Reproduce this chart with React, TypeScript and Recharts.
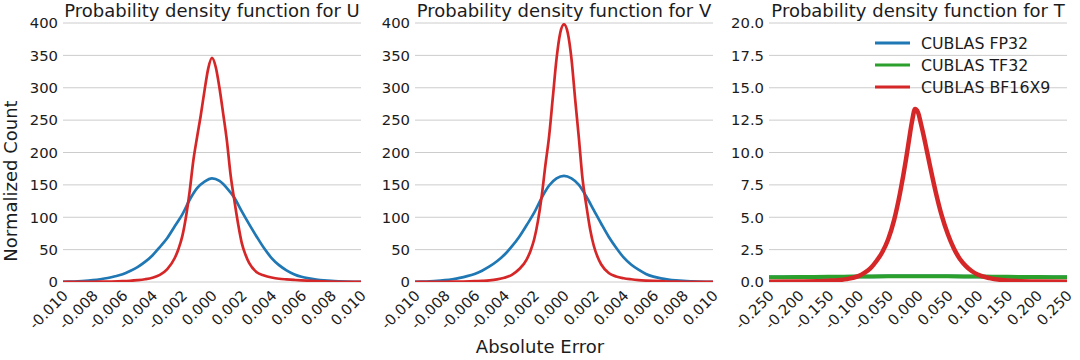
import { LineChart, Line, XAxis, YAxis, CartesianGrid } from 'recharts';

const FONT = '"DejaVu Sans", sans-serif';
const INK = '#1c1c1c';
const FP32 = '#1f77b4';
const TF32 = '#2ca02c';
const BF16X9 = '#d62728';

const seriesNames = ['CUBLAS FP32', 'CUBLAS TF32', 'CUBLAS BF16X9'];
const panelTitles = ['Probability density function for U', 'Probability density function for V', 'Probability density function for T'];

// x ticks
const smallTicks = [-0.01, -0.008, -0.006, -0.004, -0.002, 0, 0.002, 0.004, 0.006, 0.008, 0.01];
const wideTicks = [-0.25, -0.2, -0.15, -0.1, -0.05, 0, 0.05, 0.1, 0.15, 0.2, 0.25];
// y ticks
const countTicks = [0, 50, 100, 150, 200, 250, 300, 350, 400];
const tTicks = [0, 2.5, 5, 7.5, 10, 12.5, 15, 17.5, 20];

// sample positions
const broadX = [
  -0.01, -0.0095, -0.009, -0.0085, -0.008, -0.0075, -0.007, -0.0065, -0.006, -0.0055,
  -0.005, -0.0045, -0.004, -0.0035, -0.003, -0.0025, -0.002, -0.0015, -0.001, -0.0005,
  0,
  0.0005, 0.001, 0.0015, 0.002, 0.0025, 0.003, 0.0035, 0.004, 0.0045, 0.005,
  0.0055, 0.006, 0.0065, 0.007, 0.0075, 0.008, 0.0085, 0.009, 0.0095, 0.01,
];
const narrowX = [
  -0.01, -0.009, -0.008, -0.007, -0.006, -0.0055, -0.005, -0.0045, -0.004, -0.0035,
  -0.003, -0.0025, -0.00225, -0.002, -0.00175, -0.0015, -0.00125, -0.001, -0.00075, -0.0005, -0.00025,
  0,
  0.00025, 0.0005, 0.00075, 0.001, 0.00125, 0.0015, 0.00175, 0.002, 0.00225, 0.0025, 0.003,
  0.0035, 0.004, 0.0045, 0.005, 0.0055, 0.006, 0.007, 0.008, 0.009, 0.01,
];
const tPeakX = [
  -0.25, -0.2, -0.15, -0.12, -0.1, -0.09, -0.08, -0.07, -0.06, -0.05, -0.04, -0.03, -0.02,
  -0.015, -0.01, -0.005, 0, 0.005, 0.01, 0.015, 0.02, 0.03, 0.04, 0.05, 0.06, 0.07, 0.08,
  0.09, 0.1, 0.12, 0.15, 0.2, 0.25,
];
const tFlatX = [-0.25, -0.2, -0.15, -0.1, -0.05, 0, 0.05, 0.1, 0.15, 0.2, 0.25];

// U
const uFp32 = [
  0.3, 0.5, 0.9, 1.6, 2.8, 4.3, 6.2, 8.8, 12, 17, 23, 31, 41, 54, 68, 86, 104, 127, 145, 155,
  160,
  156, 145, 130, 109, 89, 70, 52, 37, 26, 18, 12, 8, 5.5, 3.8, 2.5, 1.6, 1.0, 0.6, 0.4, 0.2,
];
const uBf16x9 = [
  0.1, 0.2, 0.4, 0.7, 1.2, 1.8, 2.8, 4.2, 6.5, 11, 20, 37, 51, 70, 100, 140, 188, 224, 258, 296, 330,
  346,
  332, 300, 260, 218, 165, 126, 90, 60, 42, 29, 15, 10, 7, 5, 4, 3.2, 2.5, 1.4, 0.7, 0.3, 0.1,
];

// V
const vFp32 = [
  0.3, 0.5, 0.9, 1.6, 2.8, 4.3, 6.3, 9, 12.5, 17.5, 24, 32, 42, 55, 70, 88, 107, 130, 149, 160,
  164,
  160, 150, 132, 111, 90, 70, 53, 38, 27, 19, 12.5, 8.3, 5.6, 3.8, 2.5, 1.6, 1.0, 0.6, 0.4, 0.2,
];
const vBf16x9 = [
  0.1, 0.2, 0.4, 0.7, 1.2, 1.8, 2.6, 4, 6.5, 11, 20, 35, 48, 66, 94, 132, 180, 225, 285, 345, 385,
  398,
  385, 345, 282, 222, 158, 118, 82, 56, 39, 27, 14, 8.5, 5.8, 4.2, 3.0, 2.2, 1.6, 0.8, 0.4, 0.2, 0.1,
];

// T
const tFp32 = [0.36, 0.38, 0.4, 0.42, 0.44, 0.45, 0.44, 0.42, 0.4, 0.38, 0.36];
const tTf32 = [0.36, 0.38, 0.4, 0.42, 0.44, 0.45, 0.44, 0.42, 0.4, 0.38, 0.36];
const tBf16x9 = [
  0.02, 0.04, 0.1, 0.22, 0.45, 0.7, 1.05, 1.6, 2.3, 3.3, 4.8, 6.9, 9.5,
  11.0, 12.4, 13.35, 13.1, 12.2, 11.2, 10.1, 9.0, 6.9, 5.1, 3.7, 2.6, 1.8, 1.25,
  0.85, 0.58, 0.3, 0.12, 0.04, 0.02,
];

const zip = (xs: number[], ys: number[]) => xs.map((x, i) => ({ x, y: ys[i] }));

const RotatedTick = ({ x, y, payload }: any) => {
  const tx = x + 6;
  const ty = y + 14.5;
  return (
    <text
      x={tx}
      y={ty}
      textAnchor="end"
      transform={`rotate(-45, ${tx}, ${ty})`}
      fontSize={14.8}
      fontFamily={FONT}
      fill={INK}
    >
      {Number(payload.value).toFixed(3)}
    </text>
  );
};

type Series = { name: string; color: string; width: number; data: { x: number; y: number }[] };

function Panel({
  left,
  xDomain,
  xTicks,
  yDomain,
  yTicks,
  yFormat,
  series,
}: {
  left: number;
  xDomain: [number, number];
  xTicks: number[];
  yDomain: [number, number];
  yTicks: number[];
  yFormat: (v: number) => string;
  series: Series[];
}) {
  return (
    <div style={{ position: 'absolute', left, top: 0 }}>
      <LineChart width={380} height={360} margin={{ top: 23, right: 19, bottom: 18, left: 8 }}>
        <CartesianGrid vertical={false} stroke="#cccccc" />
        <XAxis
          type="number"
          dataKey="x"
          domain={xDomain}
          ticks={xTicks}
          interval={0}
          allowDataOverflow
          axisLine={false}
          tickLine={false}
          tickSize={0}
          tickMargin={0}
          height={60}
          tick={<RotatedTick />}
        />
        <YAxis
          type="number"
          domain={yDomain}
          ticks={yTicks}
          interval={0}
          allowDataOverflow
          axisLine={false}
          tickLine={false}
          width={55}
          tickSize={5}
          tickMargin={0}
          tickFormatter={yFormat}
          tick={{ fontSize: 14.8, fill: INK, fontFamily: FONT }}
        />
        {series.map((s) => (
          <Line
            key={s.name}
            data={s.data}
            dataKey="y"
            type="monotone"
            stroke={s.color}
            strokeWidth={s.width}
            dot={false}
            activeDot={false}
            isAnimationActive={false}
          />
        ))}
      </LineChart>
    </div>
  );
}

export default function App() {
  const plotCenters = [212, 564, 918];
  const legendColors = [FP32, TF32, BF16X9];
  return (
    <div style={{ position: 'absolute', left: 0, top: 0, width: 1080, height: 360, background: '#fff', overflow: 'hidden' }}>
      <Panel
        left={0}
        xDomain={[-0.01, 0.01]}
        xTicks={smallTicks}
        yDomain={[0, 400]}
        yTicks={countTicks}
        yFormat={(v) => String(v)}
        series={[
          { name: 'u-fp32', color: FP32, width: 2.7, data: zip(broadX, uFp32) },
          { name: 'u-bf16x9', color: BF16X9, width: 2.7, data: zip(narrowX, uBf16x9) },
        ]}
      />
      <Panel
        left={352}
        xDomain={[-0.01, 0.01]}
        xTicks={smallTicks}
        yDomain={[0, 400]}
        yTicks={countTicks}
        yFormat={(v) => String(v)}
        series={[
          { name: 'v-fp32', color: FP32, width: 2.7, data: zip(broadX, vFp32) },
          { name: 'v-bf16x9', color: BF16X9, width: 2.7, data: zip(narrowX, vBf16x9) },
        ]}
      />
      <Panel
        left={706}
        xDomain={[-0.25, 0.25]}
        xTicks={wideTicks}
        yDomain={[0, 20]}
        yTicks={tTicks}
        yFormat={(v) => v.toFixed(1)}
        series={[
          { name: 't-fp32', color: FP32, width: 3.5, data: zip(tFlatX, tFp32) },
          { name: 't-tf32', color: TF32, width: 4, data: zip(tFlatX, tTf32) },
          { name: 't-bf16x9', color: BF16X9, width: 4.5, data: zip(tPeakX, tBf16x9) },
        ]}
      />
      <svg
        width={1080}
        height={360}
        style={{ position: 'absolute', left: 0, top: 0, pointerEvents: 'none' }}
        fontFamily={FONT}
        fill={INK}
      >
        {panelTitles.map((t, i) => (
          <text key={t} x={plotCenters[i]} y={17} textAnchor="middle" fontSize={18}>
            {t}
          </text>
        ))}
        <text x={540} y={353} textAnchor="middle" fontSize={18}>
          Absolute Error
        </text>
        <text x={17} y={181} textAnchor="middle" fontSize={18} transform="rotate(-90, 17, 181)">
          Normalized Count
        </text>
        {seriesNames.map((n, i) => (
          <g key={n}>
            <line x1={875} x2={910} y1={43 + i * 22} y2={43 + i * 22} stroke={legendColors[i]} strokeWidth={3} />
            <text x={921} y={43 + i * 22 + 5.5} fontSize={15.8}>
              {n}
            </text>
          </g>
        ))}
      </svg>
    </div>
  );
}
